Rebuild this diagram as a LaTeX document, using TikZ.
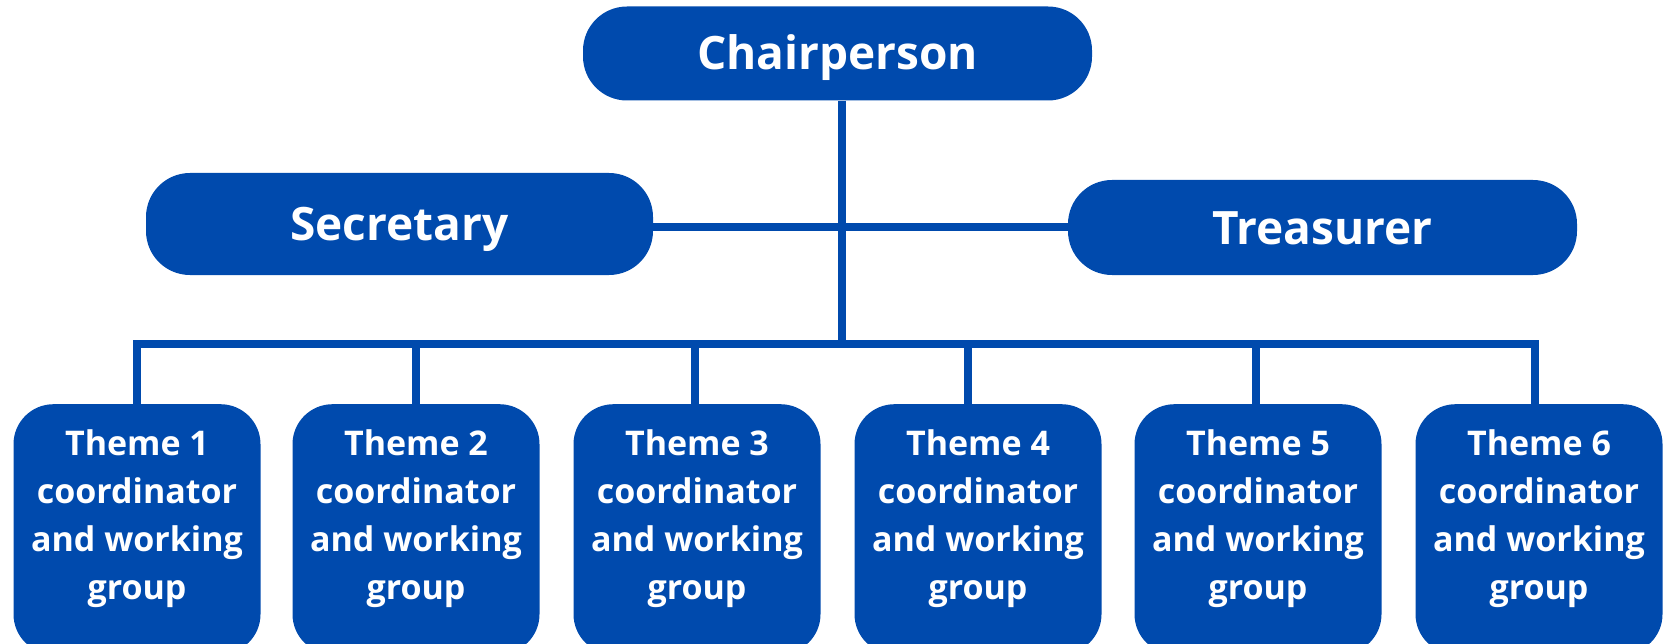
\documentclass[tikz,border=0pt]{standalone}
\usepackage{fontspec}
\setmainfont{Open Sans}
\definecolor{cobalt}{HTML}{004AAD}
\tikzset{
  headbox/.style={fill=cobalt, rounded corners=44pt, minimum width=507pt, minimum height=98pt, inner sep=0pt,
     text=white, font=\fontsize{46}{50}\selectfont\bfseries, text height=33pt, text depth=0pt},
  themebox/.style={fill=cobalt, rounded corners=40pt, minimum width=247pt, minimum height=250pt, inner sep=0pt, anchor=north},
  themetext/.style={text=white, align=center, inner sep=0pt, font=\fontsize{34}{48}\selectfont\bfseries},
  link/.style={draw=cobalt, line width=8pt, line join=miter}
}
\begin{document}
\begin{tikzpicture}[x=1pt, y=-1pt]
\useasboundingbox (0,0) rectangle (1669,644);
\clip (0,0) rectangle (1669,644);
% head boxes
\node[headbox, minimum width=509pt, minimum height=94pt] (chair) at (837.5,53.5) {Chairperson};
\node[headbox, minimum height=102pt] (sec) at (399.5,224) {Secretary};
\node[headbox, minimum width=509pt, minimum height=95pt] (tre) at (1322.5,227.5) {Treasurer};
% theme boxes
\foreach \i/\x in {1/137,2/416,3/697,4/978,5/1258,6/1539}{
  \node[themebox] (t\i) at (\x,404) {};
  \node[themetext] (t\i txt) at (\x,519) {Theme \i\\coordinator\\and working\\group};
}
\coordinate (bus) at (842,344);
% connectors
\draw[link] (sec.east |- tre.west) -- (tre.west);
\draw[link] (bus |- chair.south) -- (bus);
\draw[link] ([xshift=-0.5pt]t1.north) |- (bus) -| ([xshift=-4pt]t6.north);
\draw[link] (t2.north) -- (t2.north |- bus);
\draw[link] ([xshift=-2pt]t3.north) -- ([xshift=-2pt]t3.north |- bus);
\draw[link] ([xshift=-10pt]t4.north) -- ([xshift=-10pt]t4.north |- bus);
\draw[link] ([xshift=-2pt]t5.north) -- ([xshift=-2pt]t5.north |- bus);
\end{tikzpicture}
\end{document}
